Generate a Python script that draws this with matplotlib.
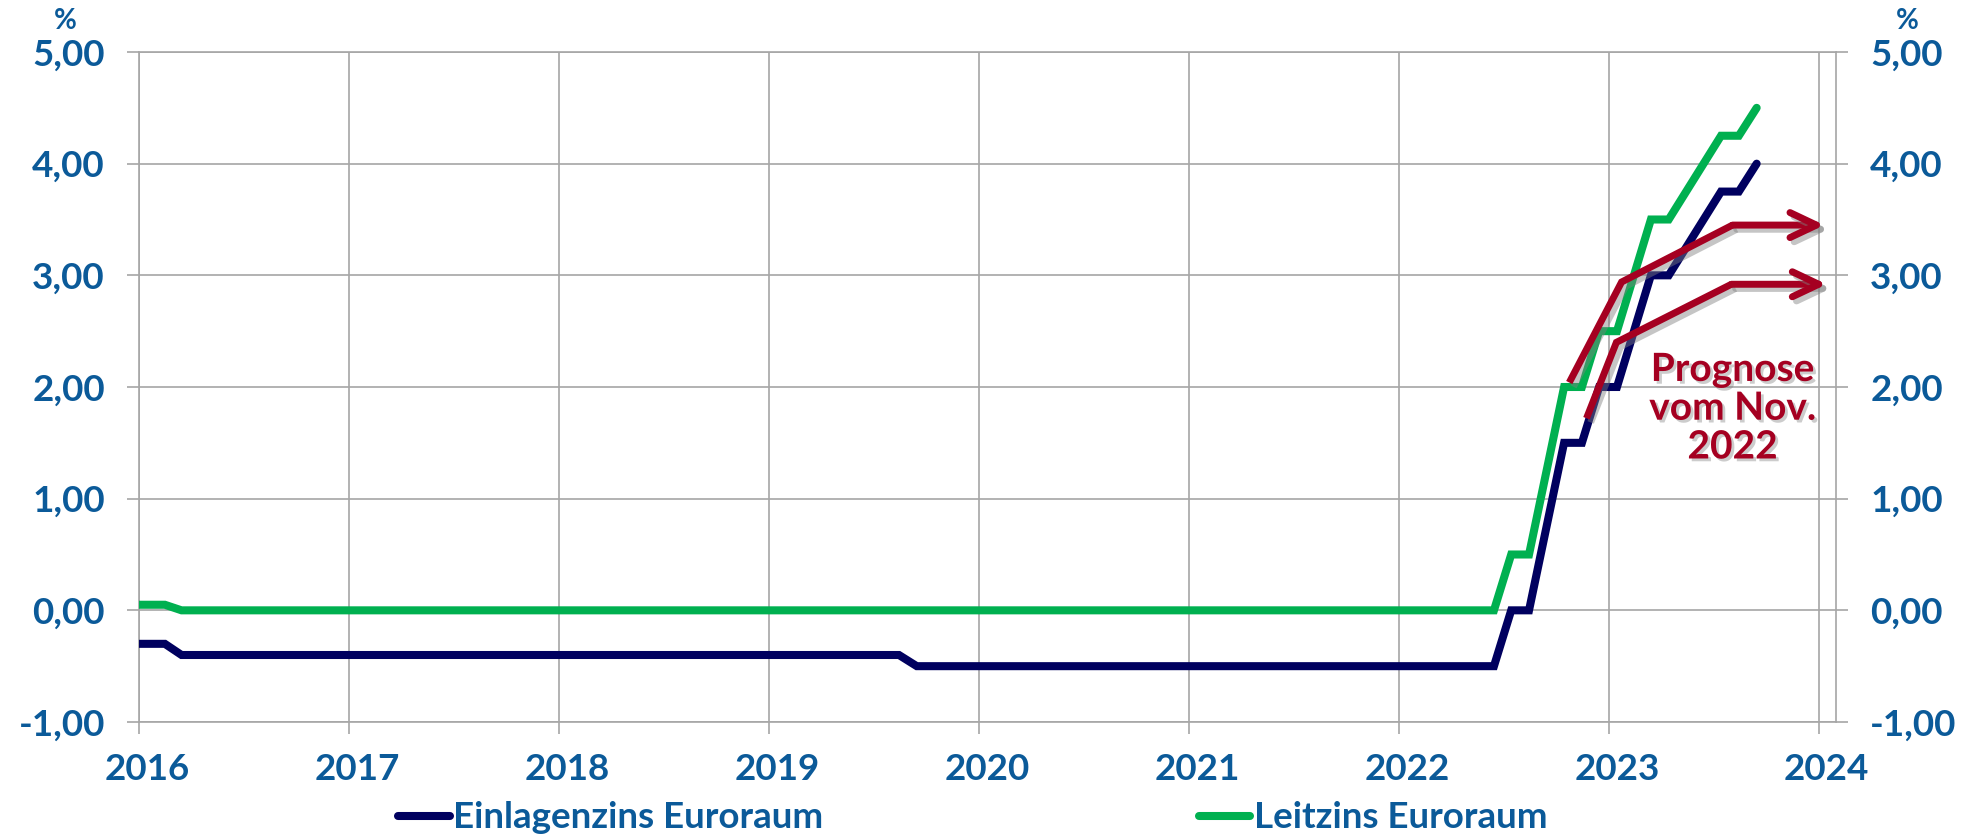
import pandas as pd
import matplotlib
matplotlib.use('Agg')
import matplotlib.pyplot as plt
import matplotlib.dates as mdates
import matplotlib.patheffects as pe
import matplotlib.transforms as mtransforms
from matplotlib.ticker import FuncFormatter, MultipleLocator

plt.rcParams['font.family'] = ['Lato', 'DejaVu Sans']
plt.rcParams['font.weight'] = 'bold'

# Einlagenzins Euroraum (Knickpunkte der Monatsreihe, Monatsmitte)
einlage_dates = ['2016-01-01', '2016-02-15', '2016-03-15', '2019-08-15', '2019-09-15',
                 '2022-06-15', '2022-07-15', '2022-08-15', '2022-10-15', '2022-11-15',
                 '2022-12-15', '2023-01-15', '2023-03-15', '2023-04-15', '2023-07-15',
                 '2023-08-15', '2023-09-15']
einlage = [-0.30, -0.30, -0.40, -0.40, -0.50,
           -0.50, 0.00, 0.00, 1.50, 1.50,
           2.00, 2.00, 3.00, 3.00, 3.75,
           3.75, 4.00]

# Leitzins Euroraum
leitzins_dates = ['2016-01-01', '2016-02-15', '2016-03-15',
                  '2022-06-15', '2022-07-15', '2022-08-15', '2022-10-15', '2022-11-15',
                  '2022-12-15', '2023-01-15', '2023-03-15', '2023-04-15', '2023-07-15',
                  '2023-08-15', '2023-09-15']
leitzins = [0.05, 0.05, 0.00,
            0.00, 0.50, 0.50, 2.00, 2.00,
            2.50, 2.50, 3.50, 3.50, 4.25,
            4.25, 4.50]

# Prognose vom Nov. 2022 (zwei Pfeile)
prog_hi_dates = ['2022-10-24', '2023-01-23', '2023-08-04', '2024-01-11']
prog_hi = [2.04, 2.94, 3.45, 3.45]
prog_lo_dates = ['2022-11-23', '2023-01-14', '2023-08-02', '2024-01-15']
prog_lo = [1.72, 2.40, 2.92, 2.92]

blue_txt = '#0b5a99'
navy = '#00005f'
green = '#00b050'
red = '#a50021'
grid_c = '#a6a6a6'

fig = plt.figure(figsize=(19.67, 8.34), dpi=100)
ax = fig.add_axes([139 / 1967, 1 - 722 / 834, (1836 - 139) / 1967, (722 - 52) / 834])

ax.plot(pd.to_datetime(einlage_dates), einlage, color=navy, lw=5.8,
        solid_capstyle='round', solid_joinstyle='miter', label='Einlagenzins Euroraum', zorder=3)
ax.plot(pd.to_datetime(leitzins_dates), leitzins, color=green, lw=5.8,
        solid_capstyle='round', solid_joinstyle='miter', label='Leitzins Euroraum', zorder=3)

shadow = [pe.SimpleLineShadow(offset=(3, -3), shadow_color='#808080', alpha=0.45), pe.Normal()]
for d, v in [(prog_hi_dates, prog_hi), (prog_lo_dates, prog_lo)]:
    d = pd.to_datetime(d)
    ax.plot(d[:3], v[:3], color=red, lw=5, solid_capstyle='butt', solid_joinstyle='miter',
            path_effects=shadow, zorder=4)
    ax.annotate('', xy=(d[3], v[3]), xytext=(d[2], v[2]),
                arrowprops=dict(arrowstyle='->,head_length=0.95,head_width=0.45',
                                color=red, lw=5, mutation_scale=20,
                                shrinkA=0, shrinkB=0, capstyle='round',
                                path_effects=shadow), zorder=4)

ax.text(pd.Timestamp('2023-08-04'), 1.81, 'Prognose\nvom Nov.\n2022', color=red,
        fontsize=28, fontweight='bold', ha='center', va='center', linespacing=1.13,
        path_effects=[pe.withSimplePatchShadow(offset=(2, -2), shadow_rgbFace='#808080', alpha=0.4)],
        zorder=5)

# Achsen
ax.set_xlim(pd.Timestamp('2016-01-01'), pd.Timestamp('2024-01-31'))
ax.set_ylim(-1, 5)
ax.xaxis.set_major_locator(mdates.YearLocator())
ax.xaxis.set_major_formatter(mdates.DateFormatter('%Y'))
ax.yaxis.set_major_locator(MultipleLocator(1))
ax.yaxis.set_major_formatter(FuncFormatter(lambda v, p: f'{v:.2f}'.replace('.', ',')))
ax.grid(True, color=grid_c, lw=1.2)
ax.set_axisbelow(True)
for s in ax.spines.values():
    s.set_color(grid_c)
    s.set_linewidth(1.2)
ax.tick_params(axis='both', colors=grid_c, length=8.6, width=1.2, labelcolor=blue_txt, labelsize=26.5)
ax.tick_params(axis='y', right=True, labelright=True, pad=16)
ax.tick_params(axis='x', pad=14)
for lbl in ax.get_xticklabels():
    lbl.set_fontweight('bold')
    lbl.set_transform(lbl.get_transform() + mtransforms.ScaledTranslation(0.08, 0, fig.dpi_scale_trans))
for lbl in ax.get_yticklabels():
    lbl.set_fontweight('bold')

fig.text(65 / 1967, 1 - 21 / 834, '%', color=blue_txt, fontsize=20, fontweight='bold',
         ha='center', va='center')
fig.text(1907 / 1967, 1 - 21 / 834, '%', color=blue_txt, fontsize=20, fontweight='bold',
         ha='center', va='center')

leg = fig.legend(loc='center left', bbox_to_anchor=(398 / 1967, 1 - 818 / 834), ncol=2,
                 frameon=False, fontsize=26.5, handlelength=1.4, handletextpad=0.1,
                 columnspacing=10.2, borderaxespad=0, borderpad=0)
for t in leg.get_texts():
    t.set_color(blue_txt)
    t.set_fontweight('bold')

fig.savefig('out.png', dpi=100)
